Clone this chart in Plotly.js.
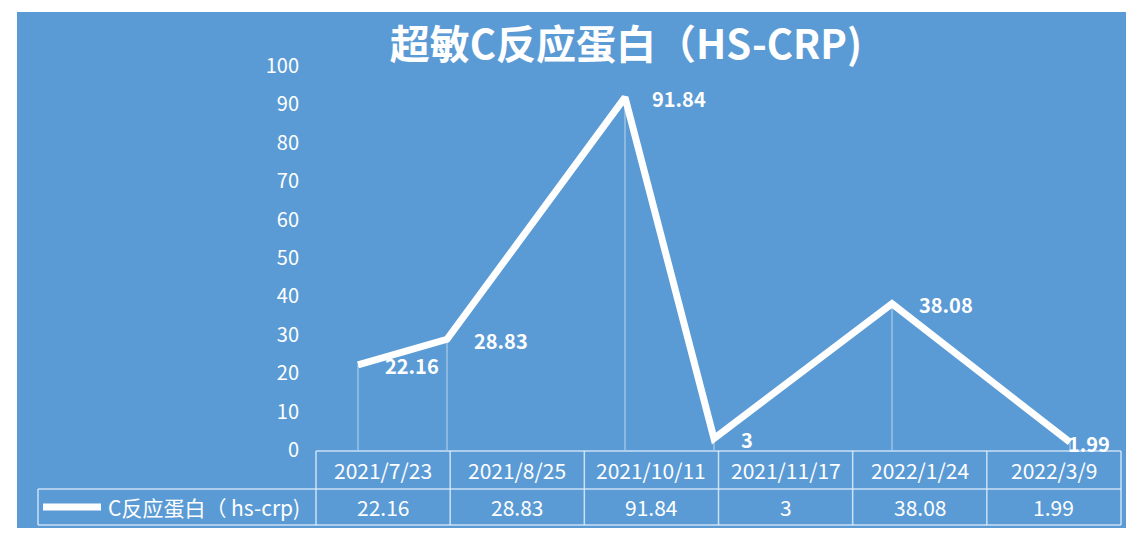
<!DOCTYPE html>
<html>
<head>
<meta charset="utf-8">
<script src="https://cdn.plot.ly/plotly-3.0.1.min.js"></script>
<style>
  html,body{margin:0;padding:0;background:#fff;}
  #chart{width:1146px;height:542px;}
</style>
</head>
<body>
<div id="chart"></div>
<script>
// data
var chartTitle = '超敏C反应蛋白（HS-CRP)'
var seriesName = 'C反应蛋白（ hs-crp)'
var dates = ['2021/7/23', '2021/8/25', '2021/10/11', '2021/11/17', '2022/1/24', '2022/3/9']
var values = [22.16, 28.83, 91.84, 3, 38.08, 1.99]
var yTicks = [0, 10, 20, 30, 40, 50, 60, 70, 80, 90, 100]

// page is 1146x542, margins are 0 so paper coords are just pixels scaled
var W = 1146, H = 542
var px = function(x){ return x / W }
var py = function(y){ return 1 - y / H }

var blue = '#5b9bd5'
var gridCol = 'rgba(222,236,250,0.85)'
var font = '"Noto Sans CJK SC", "Noto Sans", sans-serif'

// excel put the points on a monthly date axis: month index from first month
var first = dates[0].split('/')
var monthIdx = dates.map(function(d){
  var p = d.split('/')
  return (parseInt(p[0]) - parseInt(first[0])) * 12 + parseInt(p[1]) - parseInt(first[1])
})

// plot box and table box in pixels
var plotL = 316, plotR = 1121, plotT = 66, plotB = 450
var tabL = 38, row1 = 451, row2 = 489, row3 = 525
var colW = (plotR - plotL) / dates.length

var dropLines = {
  x: monthIdx,
  y: values,
  type: 'scatter',
  mode: 'markers',
  marker: {size: 1, color: 'rgba(0,0,0,0)'},
  error_y: {
    type: 'data', symmetric: false,
    array: values.map(function(){ return 0 }),
    arrayminus: values,
    width: 0, thickness: 1.2, color: 'rgba(255,255,255,0.5)'
  },
  hoverinfo: 'skip',
  showlegend: false
}

var line = {
  x: monthIdx,
  y: values,
  type: 'scatter',
  mode: 'lines',
  line: {color: '#ffffff', width: 7},
  name: seriesName,
  showlegend: false
}

var shapes = [
  // blue chart area
  {type: 'rect', xref: 'paper', yref: 'paper', layer: 'below',
   x0: px(17), x1: px(1126), y0: py(528), y1: py(12),
   fillcolor: blue, line: {width: 0}},
  // table horizontals
  {type: 'line', xref: 'paper', yref: 'paper', x0: px(plotL), x1: px(plotR), y0: py(row1), y1: py(row1), line: {color: gridCol, width: 1.5}},
  {type: 'line', xref: 'paper', yref: 'paper', x0: px(tabL), x1: px(plotR), y0: py(row2), y1: py(row2), line: {color: gridCol, width: 1.5}},
  {type: 'line', xref: 'paper', yref: 'paper', x0: px(tabL), x1: px(plotR), y0: py(row3), y1: py(row3), line: {color: gridCol, width: 1.5}},
  {type: 'line', xref: 'paper', yref: 'paper', x0: px(tabL), x1: px(tabL), y0: py(row2), y1: py(row3), line: {color: gridCol, width: 1.5}},
  // legend key
  {type: 'line', xref: 'paper', yref: 'paper', x0: px(43), x1: px(101), y0: py(507), y1: py(507), line: {color: '#ffffff', width: 7}}
]
for (var i = 0; i <= dates.length; i++) {
  var xx = plotL + i * colW
  shapes.push({type: 'line', xref: 'paper', yref: 'paper', x0: px(xx), x1: px(xx), y0: py(row1), y1: py(row3), line: {color: gridCol, width: 1.5}})
}

var annotations = [
  {xref: 'paper', yref: 'paper', x: px(106), y: py(507), xanchor: 'left', yanchor: 'middle',
   text: seriesName, showarrow: false, font: {family: font, size: 21, color: '#ffffff'}}
]
dates.forEach(function(d, i){
  var cx = px(plotL + (i + 0.5) * colW)
  annotations.push({xref: 'paper', yref: 'paper', x: cx, y: py((row1 + row2) / 2), xanchor: 'center', yanchor: 'middle',
    text: d, showarrow: false, font: {family: font, size: 21, color: '#ffffff'}})
  annotations.push({xref: 'paper', yref: 'paper', x: cx, y: py((row2 + row3) / 2), xanchor: 'center', yanchor: 'middle',
    text: String(values[i]), showarrow: false, font: {family: font, size: 21, color: '#ffffff'}})
})

// data labels to the right of each point; the last one is pulled back inside the chart
values.forEach(function(v, i){
  var last = i == values.length - 1
  annotations.push({xref: 'x', yref: 'y', x: monthIdx[i], y: v,
    xanchor: last ? 'right' : 'left', yanchor: 'middle',
    xshift: last ? 42 : 25, yshift: -1,
    text: String(v), showarrow: false,
    font: {family: font, size: 20, color: '#ffffff', weight: 'bold'}})
})

// x range: one month slot per unit, first point sits ~42px in from the left edge
var pxPerMonth = 89
var x0 = 358
var layout = {
  width: W, height: H,
  margin: {l: 0, r: 0, t: 0, b: 0},
  paper_bgcolor: '#ffffff',
  plot_bgcolor: 'rgba(0,0,0,0)',
  title: {text: chartTitle, x: px(626), y: py(45), xanchor: 'center', yanchor: 'middle',
          xref: 'paper', yref: 'paper',
          font: {family: font, size: 40, color: '#ffffff', weight: 'bold'}},
  xaxis: {
    domain: [px(plotL), px(plotR)],
    range: [(plotL - x0) / pxPerMonth, (plotR - x0) / pxPerMonth],
    showticklabels: false, showgrid: false, zeroline: false, showline: false, ticks: ''
  },
  yaxis: {
    domain: [py(plotB), py(plotT)],
    range: [0, 100],
    tickvals: yTicks,
    ticktext: yTicks.map(String),
    tickfont: {family: font, size: 20, color: '#ffffff'},
    ticklabelstandoff: 16,
    showgrid: false, zeroline: false, showline: false, ticks: ''
  },
  shapes: shapes,
  annotations: annotations,
  showlegend: false
}

Plotly.newPlot('chart', [dropLines, line], layout, {displayModeBar: false, staticPlot: true})
</script>
</body>
</html>
